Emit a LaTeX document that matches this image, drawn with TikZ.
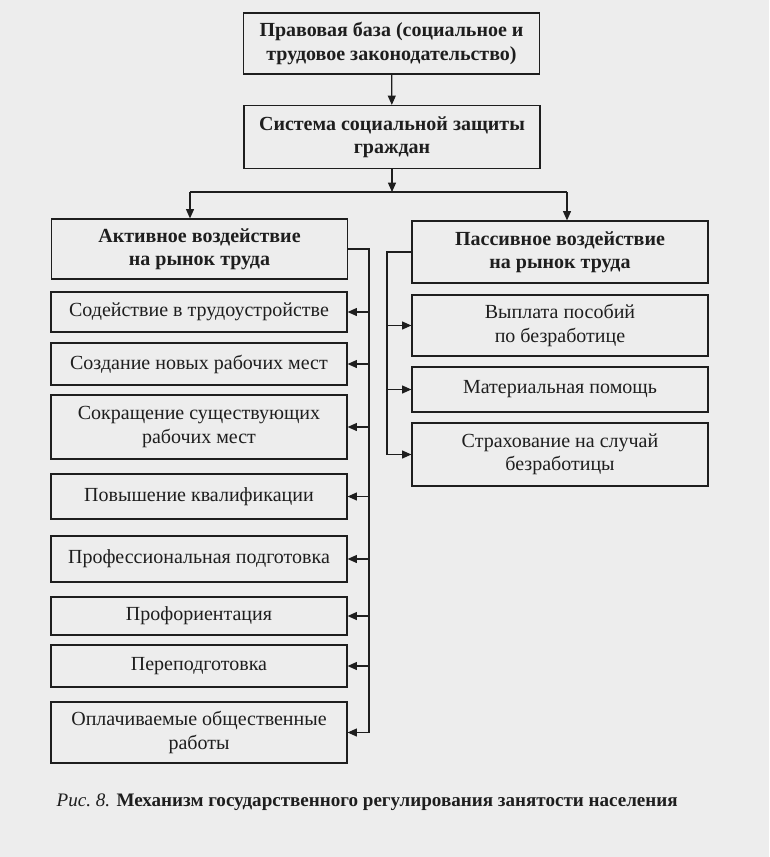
\documentclass[tikz,border=0pt]{standalone}
\usepackage{fontspec}
\setmainfont{Liberation Serif}
\usepackage{tikz}
\usetikzlibrary{arrows.meta,positioning,calc}
\definecolor{Paper}{HTML}{EDEDED}
\definecolor{Ink}{HTML}{1E1E1E}

\begin{document}
\begin{tikzpicture}[x=0.75pt, y=-0.75pt,
  every node/.style={font=\fontsize{15}{17.5}\selectfont, align=center, text=Ink},
  box/.style={draw=Ink, line width=0.9pt, inner sep=0pt, minimum width=222pt},
  head/.style={box, font=\fontsize{15}{17.5}\selectfont\bfseries},
  arr/.style={-{Triangle[length=7pt,width=6pt]}, draw=Ink, line width=0.9pt},
  bus/.style={draw=Ink, line width=0.9pt}]
  \useasboundingbox[fill=Paper] (0,0) rectangle (769,857);
  % top chain
  \node[head, minimum height=45.75pt] (law) at (391.5,43.5)
    {Правовая база (социальное и\\ трудовое законодательство)};
  \node[head, minimum height=47.25pt] (sys) at (392,137)
    {Система социальной защиты\\ граждан};
  \node[head, minimum height=45pt] (act) at (199.5,249)
    {Активное воздействие\\ на рынок труда};
  \node[head, minimum height=46.5pt] (pas) at (560,252)
    {Пассивное воздействие\\ на рынок труда};
  % active measures
  \node[box, minimum height=30pt]    (a1) at (199,312) {Содействие в трудоустройстве};
  \node[box, minimum height=31.5pt]  (a2) at (199,364) {Создание новых рабочих мест};
  \node[box, minimum height=48pt]    (a3) at (199,427) {Сокращение существующих\\ рабочих мест};
  \node[box, minimum height=33.75pt] (a4) at (199,496.5) {Повышение квалификации};
  \node[box, minimum height=34.5pt]  (a5) at (199,559) {Профессиональная подготовка};
  \node[box, minimum height=28.5pt]  (a6) at (199,616) {Профориентация};
  \node[box, minimum height=31.5pt]  (a7) at (199,666) {Переподготовка};
  \node[box, minimum height=45.75pt] (a8) at (199,732.5) {Оплачиваемые общественные\\ работы};
  % passive measures
  \node[box, minimum height=45.75pt] (p1) at (560,325.5) {Выплата пособий\\ по безработице};
  \node[box, minimum height=33.75pt] (p2) at (560,389.5) {Материальная помощь};
  \node[box, minimum height=47.25pt] (p3) at (560,454.5) {Страхование на случай\\ безработицы};
  % caption
  \node[anchor=west, font=\fontsize{14.3}{17}\selectfont] (cap) at (52,802)
    {{\itshape Рис.~8.} \textbf{Механизм государственного регулирования занятости населения}};
  % connectors
  \draw[arr] (law) -- (sys);
  \coordinate (jl) at (190,192);
  \coordinate (jr) at (567,192);
  \draw[arr] (sys) -- (sys |- jl);
  \draw[bus] (jl) -- (jr);
  \draw[arr] (jl) -- (jl |- act.north);
  \draw[arr] (jr) -- (jr |- pas.north);
  \coordinate (lb) at (369,0);
  \coordinate (rb) at (387,0);
  \draw[bus] (act.east) -- (act.east -| lb) -- (a8.east -| lb);
  \draw[bus] (pas.west) -- (pas.west -| rb) -- (p3.west -| rb);
  \foreach \n in {a1,a2,a3,a4,a5,a6,a7,a8}
    \draw[arr] (\n.east -| lb) -- (\n.east);
  \foreach \n in {p1,p2,p3}
    \draw[arr] (\n.west -| rb) -- (\n.west);
\end{tikzpicture}
\end{document}
